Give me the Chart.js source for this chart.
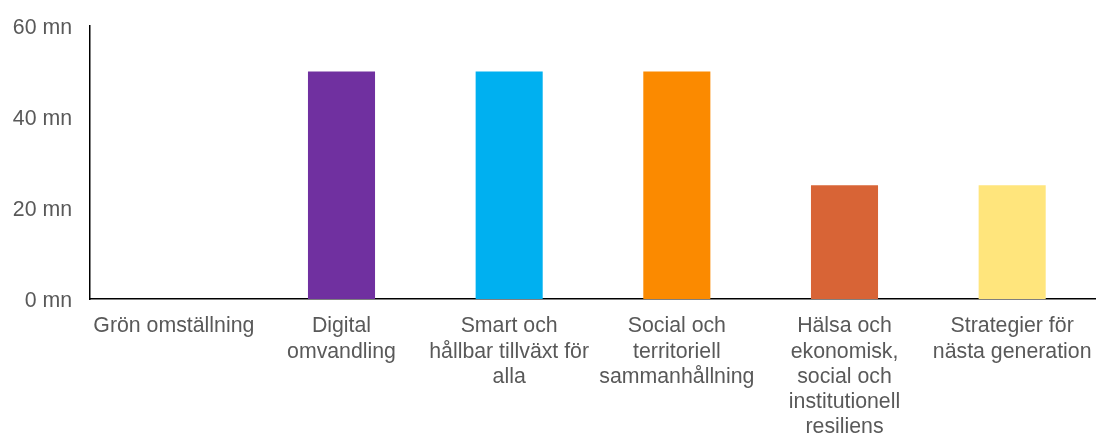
<!DOCTYPE html>
<html>
<head>
<meta charset="utf-8">
<script src="https://cdn.jsdelivr.net/npm/chart.js@4"></script>
<style>
html,body{margin:0;padding:0;background:#fff;}
#wrap{width:1096px;height:433px;position:relative;}
</style>
</head>
<body>
<div id="wrap"><canvas id="c" width="1096" height="433"></canvas></div>
<script>
const categories = [
  "Grön omställning",
  ["Digital", "omvandling"],
  ["Smart och", "hållbar tillväxt för", "alla"],
  ["Social och", "territoriell", "sammanhållning"],
  ["Hälsa och", "ekonomisk,", "social och", "institutionell", "resiliens"],
  ["Strategier för", "nästa generation"]
];
const values = [0, 50, 50, 50, 25, 25];
const barColors = ["#70AD47", "#7030A0", "#00B0F0", "#FB8A00", "#D86436", "#FFE57C"];
const yTicks = [0, 20, 40, 60];
const unitSuffix = " mn";

new Chart(document.getElementById('c'), {
  type: 'bar',
  data: {
    labels: categories,
    datasets: [{
      data: values,
      backgroundColor: barColors,
      borderWidth: 0,
      categoryPercentage: 1.0,
      barPercentage: 0.4
    }]
  },
  options: {
    responsive: false,
    animation: false,
    layout: { padding: { left: 0, right: 0, top: 26, bottom: 0 } },
    plugins: { legend: { display: false }, tooltip: { enabled: false } },
    scales: {
      x: {
        grid: { display: false, drawTicks: false },
        border: { display: true, color: '#000', width: 1.5 },
        ticks: {
          color: '#595959',
          font: { family: 'Liberation Sans, Arial, sans-serif', size: 21.3, lineHeight: 1.18 },
          padding: 15,
          maxRotation: 0,
          minRotation: 0,
          autoSkip: false
        },
        afterFit: (s) => { s.height = 134; s.paddingLeft = 0; s.paddingRight = 0; }
      },
      y: {
        min: 0,
        max: 60,
        afterBuildTicks: (s) => { s.ticks = yTicks.map(v => ({ value: v })); },
        grid: { display: false, drawTicks: false },
        border: { display: true, color: '#000', width: 1.5 },
        ticks: {
          color: '#595959',
          font: { family: 'Liberation Sans, Arial, sans-serif', size: 21.3 },
          padding: 18,
          labelOffset: 2,
          callback: (v) => v + unitSuffix
        },
        afterFit: (s) => { s.width = 90; s.paddingTop = 0; s.paddingBottom = 0; }
      }
    }
  }
});
</script>
</body>
</html>
